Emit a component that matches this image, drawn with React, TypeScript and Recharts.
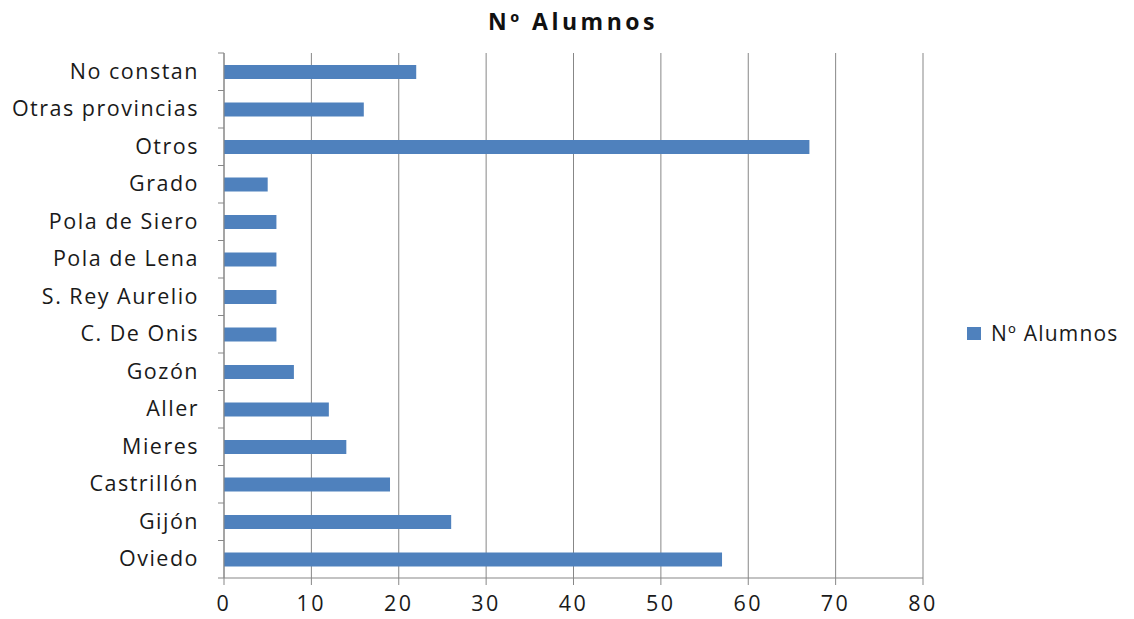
import { BarChart, Bar, XAxis, YAxis, CartesianGrid, Legend } from "recharts";

const categories = [
  "No constan",
  "Otras provincias",
  "Otros",
  "Grado",
  "Pola de Siero",
  "Pola de Lena",
  "S. Rey Aurelio",
  "C. De Onis",
  "Gozón",
  "Aller",
  "Mieres",
  "Castrillón",
  "Gijón",
  "Oviedo",
];
const alumnos = [22, 16, 67, 5, 6, 6, 6, 6, 8, 12, 14, 19, 26, 57];
const xTicks = [0, 10, 20, 30, 40, 50, 60, 70, 80];

const data = categories.map((lugar, i) => ({ lugar, alumnos: alumnos[i] }));

const FONT = "'Open Sans', sans-serif";
const GRID = "#878787";
const BLUE = "#4f81bd";
const INK = "#1a1a1a";

// Excel-style: ticks sit on band boundaries, not on the label centres
const CategoryTick = (props: any) => {
  const { x, y, payload, index } = props;
  const half = 37.5 / 2;
  const ax = x + 8;
  return (
    <g>
      <line x1={ax - 6} x2={ax} y1={y - half} y2={y - half} stroke={GRID} />
      {index === categories.length - 1 && (
        <line x1={ax - 6} x2={ax} y1={y + half} y2={y + half} stroke={GRID} />
      )}
      <text
        x={ax - 25}
        y={y}
        dy={7}
        textAnchor="end"
        fill={INK}
        fontSize={21.5}
        letterSpacing={1.5}
        fontFamily={FONT}
      >
        {payload.value}
      </text>
    </g>
  );
};

const LegendBox = () => (
  <div style={{ display: "flex", alignItems: "center", fontFamily: FONT, fontSize: 21, color: INK, letterSpacing: 1.2 }}>
    <span style={{ width: 14, height: 13, background: BLUE, marginRight: 10, display: "inline-block" }} />
    Nº Alumnos
  </div>
);

export default function App() {
  return (
    <div style={{ position: "absolute", left: 0, top: 0, width: 1134, height: 619, background: "#fff" }}>
      <div
        style={{
          position: "absolute",
          top: 5,
          left: 0,
          width: 1134,
          textAlign: "center",
          fontFamily: FONT,
          fontWeight: 700,
          fontSize: 23,
          letterSpacing: 3.5,
          color: "#111",
          paddingLeft: 6,
        }}
      >
        Nº Alumnos
      </div>
      <BarChart
        width={1134}
        height={619}
        data={data}
        layout="vertical"
        margin={{ top: 53, right: 211, left: 0, bottom: 11 }}
        barSize={14}
      >
        <CartesianGrid horizontal={false} vertical stroke={GRID} strokeWidth={1} />
        <XAxis
          type="number"
          domain={[0, 80]}
          ticks={xTicks}
          interval={0}
          axisLine={{ stroke: GRID }}
          tickLine={{ stroke: GRID }}
          tickSize={7}
          tickMargin={11}
          height={30}
          tick={{ fill: INK, fontSize: 21.5, fontFamily: FONT, letterSpacing: 2.5 }}
        />
        <YAxis
          type="category"
          dataKey="lugar"
          width={224}
          axisLine={{ stroke: GRID }}
          tickLine={false}
          interval={0}
          tick={<CategoryTick />}
        />
        <Legend
          layout="horizontal"
          verticalAlign="middle"
          align="center"
          content={<LegendBox />}
          wrapperStyle={{ position: "absolute", left: 967, top: 319, width: 167 }}
        />
        <Bar dataKey="alumnos" name="Nº Alumnos" fill={BLUE} isAnimationActive={false} />
      </BarChart>
    </div>
  );
}
